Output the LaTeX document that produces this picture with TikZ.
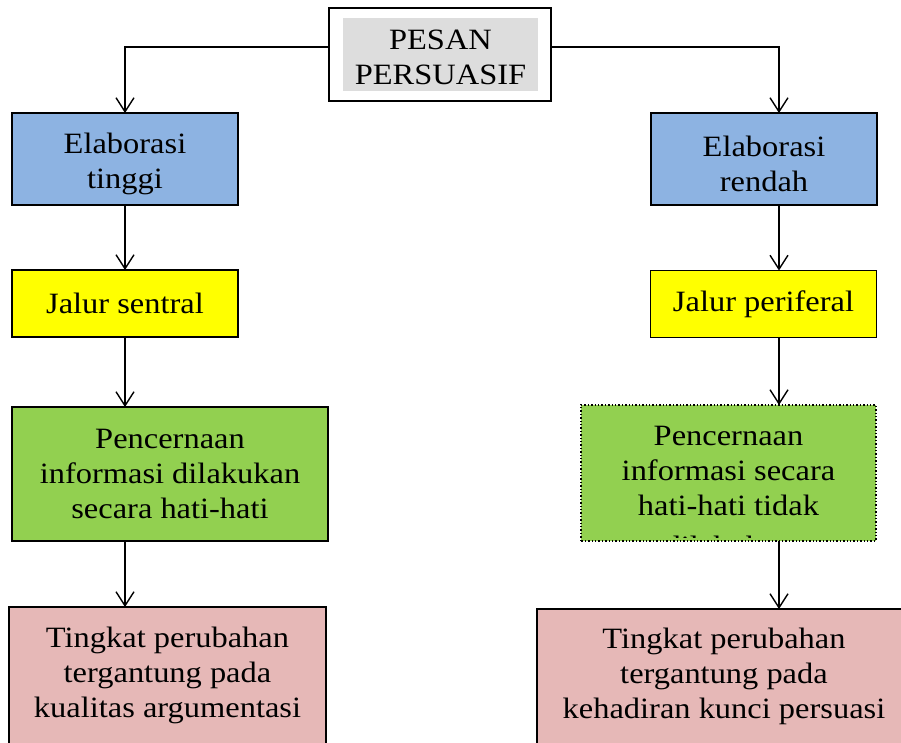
\documentclass[tikz,border=0pt]{standalone}
\usepackage{fontspec}
\setmainfont[FakeStretch=1.1]{Liberation Serif}
\usetikzlibrary{arrows.meta}
\definecolor{bluefill}{HTML}{8DB3E2}
\definecolor{yellowfill}{HTML}{FFFF00}
\definecolor{greenfill}{HTML}{92D050}
\definecolor{pinkfill}{HTML}{E6B8B7}
\definecolor{grayfill}{HTML}{DDDDDD}
\begin{document}
\begin{tikzpicture}[x=1pt,y=-1pt,
  box/.style={draw=black, line width=1.4pt, inner sep=0pt, outer sep=0pt, align=center,
    font=\fontsize{29.5}{35}\selectfont},
  txt/.style={inner sep=0pt, align=center, font=\fontsize{29.5}{35}\selectfont},
  arr/.style={line width=1.4pt, -{Straight Barb[length=14pt,width=18pt]}},
  bluebox/.style={box, fill=bluefill, minimum width=226pt, minimum height=92pt},
  yellowbox/.style={box, fill=yellowfill, minimum width=226pt, minimum height=67pt},
  greenbox/.style={box, fill=greenfill},
  pinkbox/.style={box, fill=pinkfill}]
\useasboundingbox (0,0) rectangle (901,742);
\clip (0,0) rectangle (901,742);

% top
\node[box, fill=white, minimum width=222pt, minimum height=93pt] (pesan) at (440,54.5) {};
\node[fill=grayfill, inner sep=0pt, minimum width=195pt, minimum height=73pt] (pesanin) at (440.5,54.5) {};
\node[txt] (pesantxt) at (440.5,57.5) {PESAN\\PERSUASIF};

% left column
\node[bluebox] (e1) at (125,159) {};
\node[txt] (e1t) at (125,164) {Elaborasi\\tinggi};
\node[yellowbox] (j1) at (125,303.5) {Jalur sentral};
\node[greenbox, minimum width=316pt, minimum height=134pt] (g1) at (170,474) {Pencernaan\\informasi dilakukan\\secara hati-hati};
\node[pinkbox, minimum width=317pt, minimum height=150pt] (p1) at (167.5,682) {};
\node[txt] (p1t) at (167.5,675) {Tingkat perubahan\\tergantung pada\\kualitas argumentasi};

% right column
\node[bluebox] (e2) at (764,159) {};
\node[txt] (e2t) at (764,164) {Elaborasi\\rendah};
\node[yellowbox] (j2) at (763.5,304) {Jalur periferal};
\node[greenbox, draw=none, minimum width=295pt, minimum height=136pt] (g2) at (728.5,473) {};
\begin{scope}
  \clip (g2.north west) rectangle ([yshift=4pt]g2.south east);
  \node[txt, anchor=north] (g2t) at (728.5,426) {Pencernaan\\informasi secara\\hati-hati tidak\\[6pt]dilakukan};
\end{scope}
\draw[line width=1.4pt, dotted] (g2.south west) rectangle (g2.north east);
\node[pinkbox, minimum width=374pt, minimum height=152pt] (p2) at (724,685) {};
\node[txt] (p2t) at (724,676) {Tingkat perubahan\\tergantung pada\\kehadiran kunci persuasi};

% connectors
\coordinate (rx) at (779,0);
\draw[arr] ([yshift=7.5pt]pesan.west) -| (e1.north);
\draw[arr] ([yshift=7.5pt]pesan.east) -| (e2.north -| rx);
\draw[arr] (e1.south) -- (j1.north);
\draw[arr] (j1.south) -- (j1.south |- g1.north);
\draw[arr] (g1.south -| j1.south) -- (p1.north -| j1.south);
\draw[arr] (e2.south -| rx) -- (j2.north -| rx);
\draw[arr] (j2.south -| rx) -- (g2.north -| rx);
\draw[arr] (g2.south -| rx) -- (p2.north -| rx);
\end{tikzpicture}
\end{document}
